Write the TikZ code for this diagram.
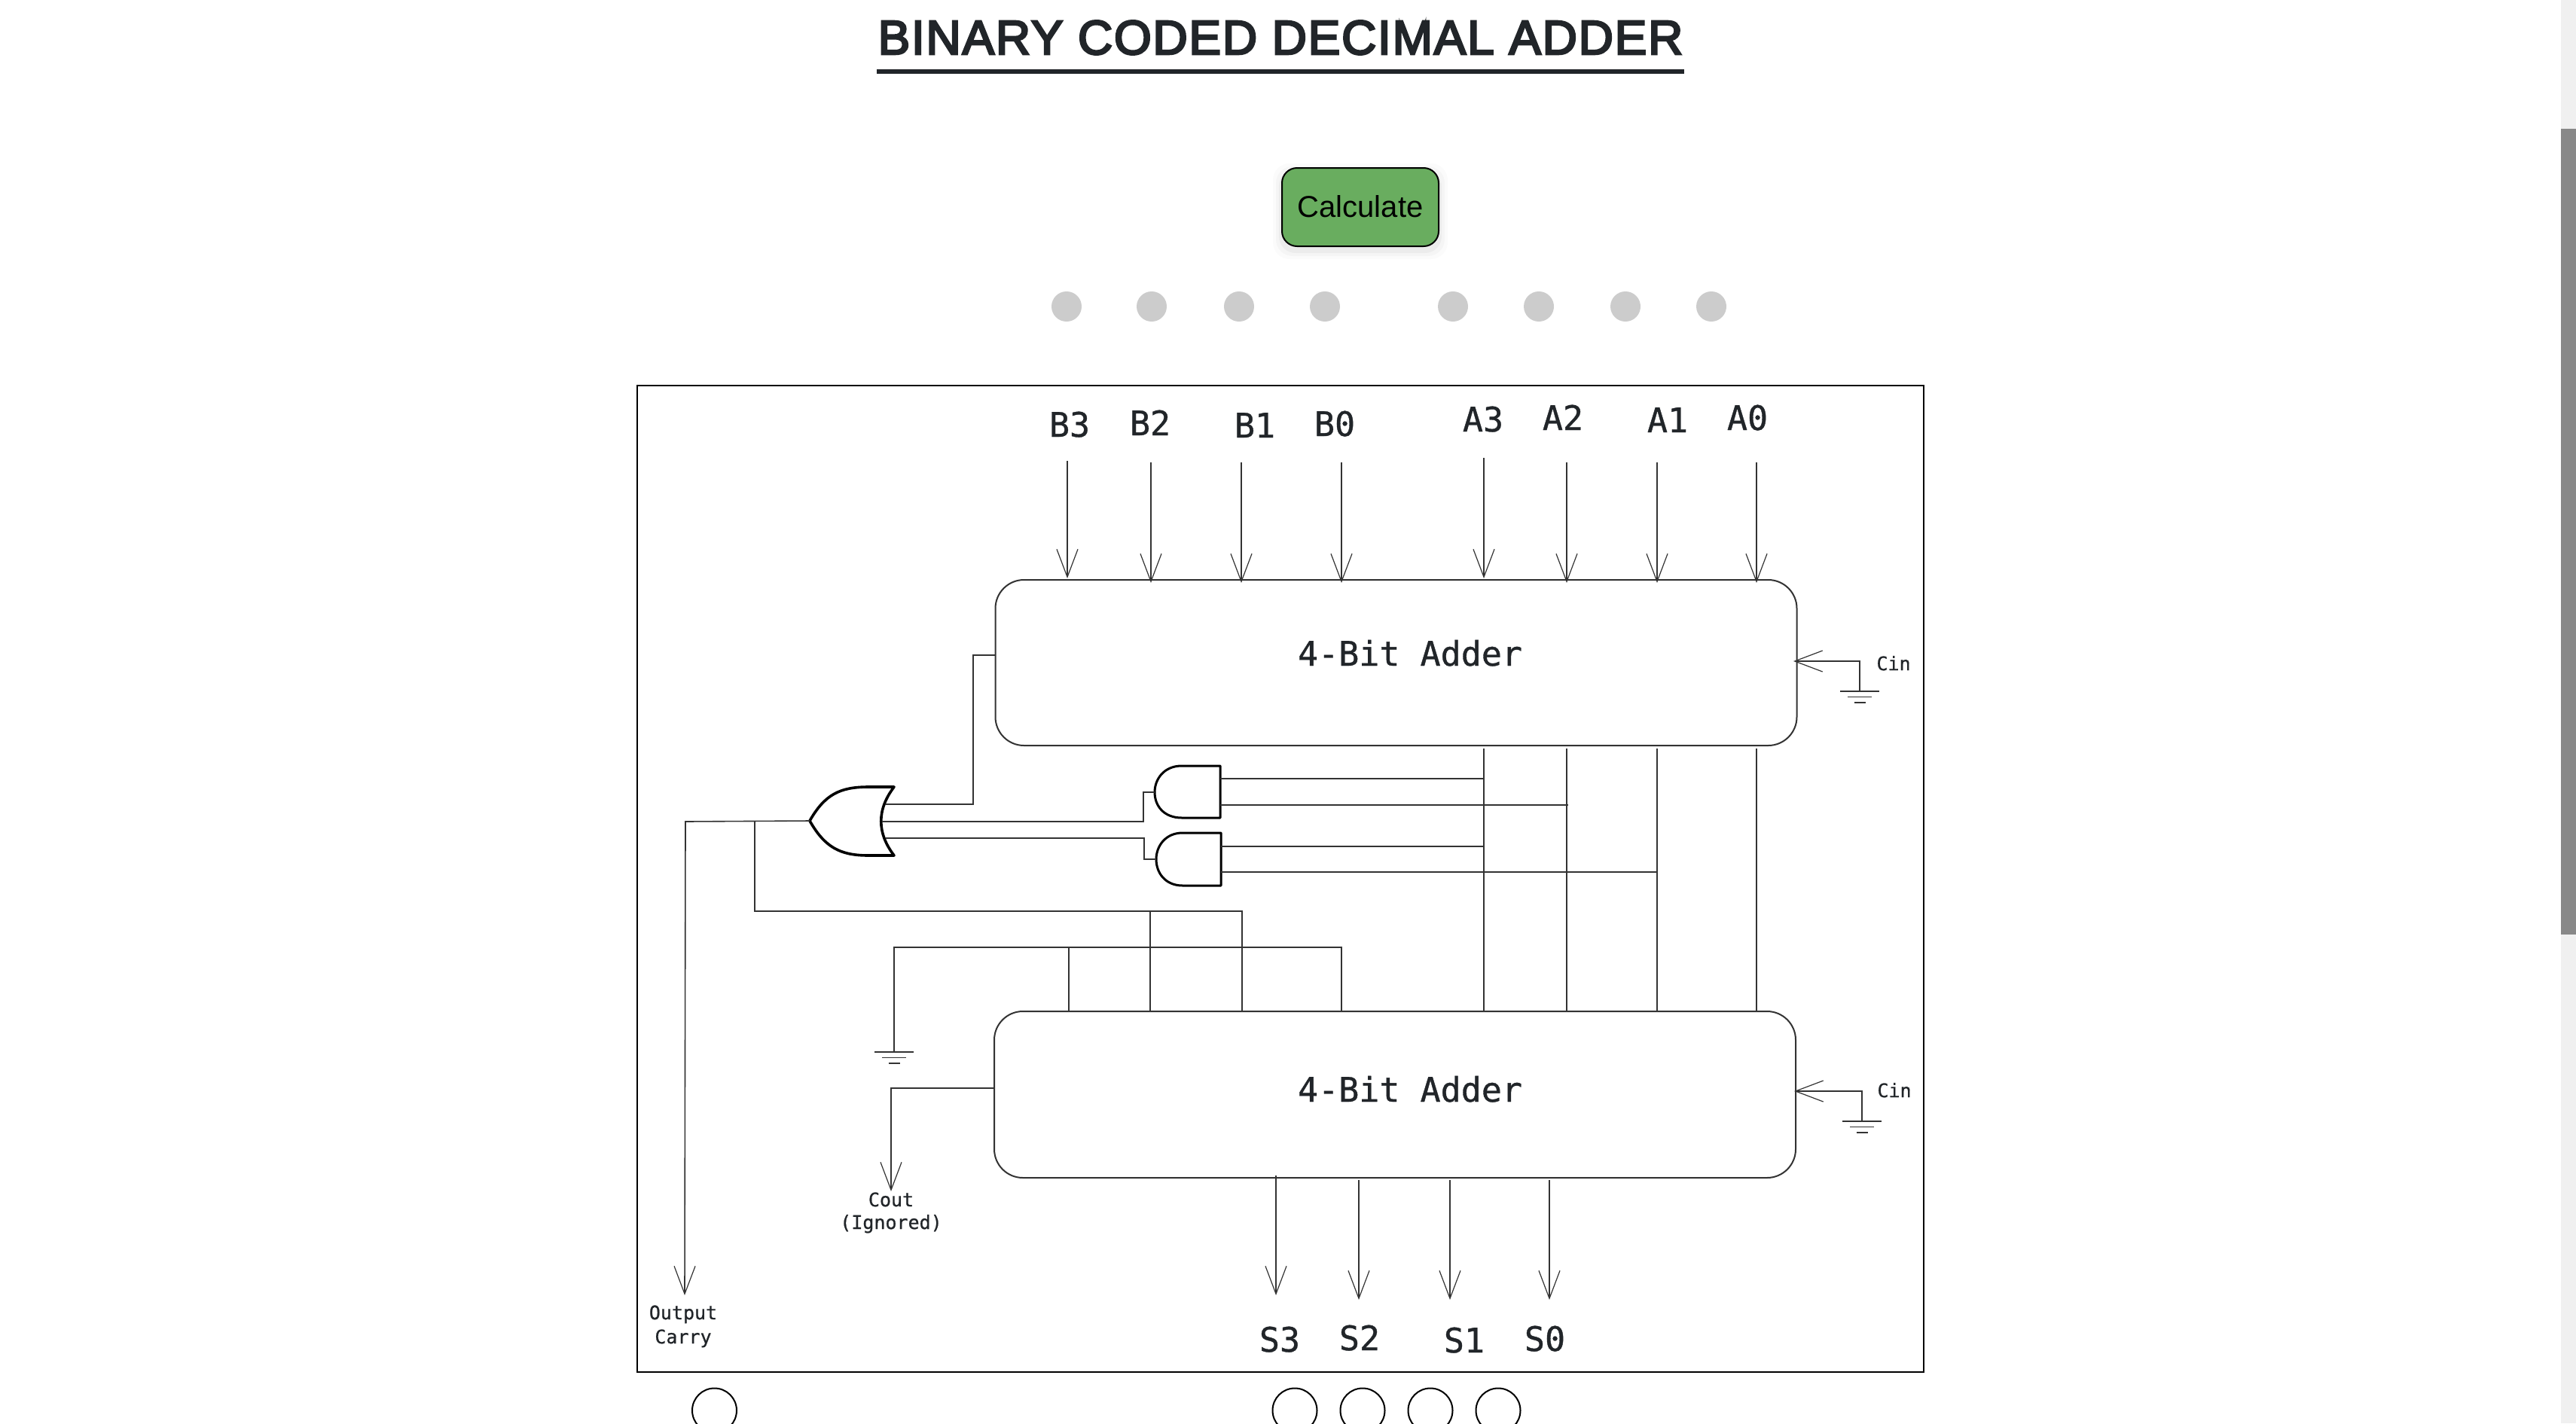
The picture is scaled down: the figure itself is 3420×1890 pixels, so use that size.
\documentclass[tikz,border=0pt]{standalone}
\usepackage{fontspec}
\setmainfont{Liberation Sans}
\newfontfamily\titlefont[LetterSpace=2.75,FakeBold=4]{Liberation Sans}
\setmonofont[FakeBold=0.8]{DejaVu Sans Mono}
\usetikzlibrary{arrows.meta}
\definecolor{ink}{HTML}{212529}
\definecolor{wire}{HTML}{333333}
\definecolor{btn}{HTML}{69AD5F}
\definecolor{dotgrey}{HTML}{CCCCCC}
\definecolor{track}{HTML}{F0F0F0}
\definecolor{thumb}{HTML}{888888}
\tikzset{
  x=0.5pt,y=-0.5pt,
  wireline/.style={draw=wire,line width=0.8pt},
  arrowline/.style={wireline,shorten >=-1pt,-{Straight Barb[length=18.5pt,width=14pt,line width=0.6pt]}},
  biglabel/.style={anchor=base,inner sep=0pt,text=ink,font=\fontsize{22.5}{26}\selectfont\ttfamily},
  smalllabel/.style={anchor=base,inner sep=0pt,text=ink,font=\fontsize{12.5}{15}\selectfont\ttfamily},
  adderbox/.style={draw=wire,line width=1pt,rounded corners=19pt,minimum width=532pt,inner sep=0pt,fill=white},
  gateline/.style={draw=black,fill=white,line join=round},
  bit/.style={circle,fill=dotgrey,minimum size=20pt,inner sep=0pt},
  lamp/.style={circle,draw=black,line width=1pt,minimum size=29.5pt,inner sep=0pt},
  ground/.pic={
    \draw[draw=wire,line width=0.7pt] (-26,0) -- (26,0) (-16,7.5) -- (16,7.5) (-7.5,15) -- (7.5,15);
  },
}
\begin{document}
\begin{tikzpicture}
\useasboundingbox (0,0) rectangle (3420,1890);
\clip (0,0) rectangle (3420,1890);
% page furniture
\fill[track] (3400,0) rectangle (3420,1890);
\fill[thumb] (3400,171) rectangle (3420,1241);
\node[anchor=base,inner sep=0pt,text=ink,font=\fontsize{32}{38}\selectfont\titlefont] (title) at (1700,72) {BINARY CODED DECIMAL ADDER};
\fill[ink] (1164,92) rectangle (2236,98);
% button with its soft shadow
\foreach \g/\o in {12/0.015,8/0.025,4/0.035}
  \fill[black,opacity=\o,rounded corners=11pt] (1702-\g,229-\g) rectangle (1910+\g,332+\g);
\node[draw=black,fill=btn,line width=1pt,rounded corners=10pt,minimum width=104pt,minimum height=52pt,inner sep=0pt] (calc) at (1806,275) {};
\node[anchor=base,inner sep=0pt,font=\fontsize{20}{24}\selectfont,text=black] (calctext) at (1806,288) {Calculate};
% input lamps
\foreach \n/\x in {d1/1416,d2/1529,d3/1645,d4/1759,d5/1929,d6/2043,d7/2158,d8/2272}
  \node[bit] (\n) at (\x,407) {};
% frame
\node[draw=black,line width=1.4pt,minimum width=854pt,minimum height=655pt,inner sep=0pt] (frame) at (1700,1167) {};
% adders
\node[adderbox,minimum height=110pt] (upper) at (1853.5,880) {};
\node[adderbox,minimum height=110.5pt] (lower) at (1852,1453.5) {};
\node[biglabel] (ut) at (1872,884) {4-Bit Adder};
\node[biglabel] (lt) at (1872,1463) {4-Bit Adder};
% top labels and their arrows
\foreach \n/\t/\x/\y in {lb3/B3/1420/580,lb2/B2/1527/578,lb1/B1/1666/581,lb0/B0/1772/579,la3/A3/1969/573,la2/A2/2075/571,la1/A1/2214/574,la0/A0/2320/571}
  \node[biglabel] (\n) at (\x,\y) {\t};
\foreach \n/\x/\ya/\yb in {b3/1417/612/766,b2/1528/614/772,b1/1648/614/772,b0/1781/614/772,a3/1970/608/766,a2/2080/614/772,a1/2200/614/772,a0/2332/614/772}{
  \coordinate (\n s) at (\x,\ya);
  \coordinate (\n e) at (\x,\yb);
  \draw[arrowline] (\n s) -- (\n e);
}
% gates
\path[gateline,line width=1.8pt] (1075,1090) .. controls (1095,1055) and (1115,1045) .. (1153,1045) -- (1187,1045) .. controls (1164,1075) and (1164,1106) .. (1187,1136) -- (1153,1136) .. controls (1115,1136) and (1095,1125) .. (1075,1090) -- cycle;
\path[gateline,line width=1.5pt] (1620,1017) -- (1569,1017) .. controls (1545,1017) and (1533,1035) .. (1533,1052) .. controls (1533,1070) and (1545,1086) .. (1569,1086) -- (1620,1086) -- cycle;
\path[gateline,line width=1.5pt] (1621,1106) -- (1570,1106) .. controls (1547,1106) and (1535,1124) .. (1535,1141) .. controls (1535,1159) and (1547,1176) .. (1570,1176) -- (1621,1176) -- cycle;
\coordinate (ortip) at (1075,1090);
\coordinate (orA) at (1176,1068);
\coordinate (orB) at (1171,1091);
\coordinate (orC) at (1176,1113);
\coordinate (andAin) at (1533,1052);
\coordinate (andBin) at (1535,1141);
% or-gate inputs
\coordinate (upc) at (1321,870);
\draw[wireline] (upc) -- (1292,870) -- (1292,1068) -- (orA);
\draw[wireline] (orB) -- (1518,1091) -- (1518,1052) -- (andAin);
\draw[wireline] (orC) -- (1519,1113) -- (1519,1141) -- (andBin);
% sum buses from upper to lower adder
\foreach \n/\x in {v3/1970,v2/2080,v1/2200,v0/2332}{
  \coordinate (\n s) at (\x,994);
  \coordinate (\n e) at (\x,1343);
  \draw[wireline] (\n s) -- (\n e);
}
% and-gate inputs
\draw[wireline] (1620,1034) -- (1970,1034);
\draw[wireline] (1620,1069) -- (2082,1069);
\draw[wireline] (1621,1124) -- (1970,1124);
\draw[wireline] (1621,1158) -- (2200,1158);
% or output
\coordinate (carrytip) at (909,1718);
\draw[arrowline] (ortip) -- (910,1091) -- (carrytip);
\coordinate (lf1) at (1527,1343);
\coordinate (lf2) at (1649,1343);
\draw[wireline] (1002,1091) -- (1002,1210) -- (1649,1210) -- (lf2);
\draw[wireline] (1527,1210) -- (lf1);
% zero rail to lower adder
\coordinate (lz1) at (1419,1343);
\coordinate (lz2) at (1781,1343);
\coordinate (gndz) at (1187,1397);
\draw[wireline] (gndz) -- (1187,1258) -- (1781,1258) -- (lz2);
\draw[wireline] (1419,1258) -- (lz1);
\pic at (gndz) {ground};
% cout
\coordinate (lowc) at (1320,1445);
\coordinate (couttip) at (1183,1580);
\draw[arrowline] (lowc) -- (1183,1445) -- (couttip);
\node[smalllabel] (cout) at (1183,1602) {Cout};
\node[smalllabel] (ign) at (1183,1632) {(Ignored)};
\node[smalllabel] (outl) at (907,1752) {Output};
\node[smalllabel] (carl) at (907,1784) {Carry};
% carry-in
\coordinate (gc1) at (2469,918);
\coordinate (gc2) at (2472,1489);
\coordinate (ci1) at (2383,878);
\coordinate (ci2) at (2384,1449);
\draw[arrowline] (gc1) -- (2469,878) -- (ci1);
\draw[arrowline] (gc2) -- (2472,1449) -- (ci2);
\pic at (gc1) {ground};
\pic at (gc2) {ground};
\node[smalllabel] (cin1) at (2514,890) {Cin};
\node[smalllabel] (cin2) at (2515,1457) {Cin};
% sums
\foreach \n/\x/\ya/\yb in {s3/1694/1561/1718,s2/1804/1567/1724,s1/1925/1567/1724,s0/2057/1567/1724}{
  \coordinate (\n s) at (\x,\ya);
  \coordinate (\n e) at (\x,\yb);
  \draw[arrowline] (\n s) -- (\n e);
}
\foreach \n/\t/\x/\y in {ls3/S3/1699/1795,ls2/S2/1805/1793,ls1/S1/1944/1796,ls0/S0/2051/1794}
  \node[biglabel] (\n) at (\x,\y) {\t};
% output lamps
\foreach \n/\x in {o0/948.5,o1/1719,o2/1809,o3/1899,o4/1989}
  \node[lamp] (\n) at (\x,1873) {};
\end{tikzpicture}
\end{document}
